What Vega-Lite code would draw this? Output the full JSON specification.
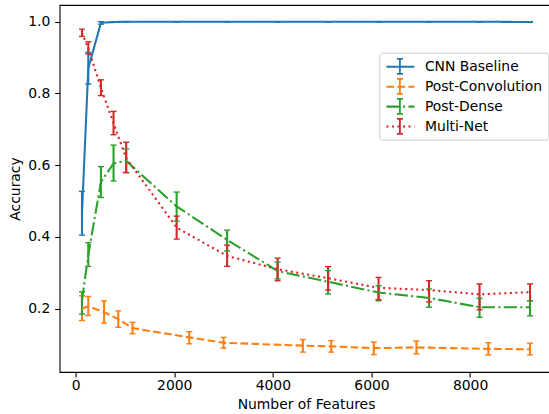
{
  "$schema": "https://vega.github.io/schema/vega-lite/v6.json",
  "autosize": {"type": "none"},
  "padding": {"left": 59.6, "top": 5, "right": -3.4, "bottom": 42},
  "width": 492.8,
  "height": 367,
  "background": "white",
  "config": {
    "font": "DejaVu Sans",
    "view": {"stroke": "black", "strokeWidth": 1.1},
    "axis": {
      "domain": false,
      "grid": false,
      "tickColor": "black",
      "tickWidth": 1.1,
      "tickSize": 4.9,
      "labelFont": "DejaVu Sans",
      "labelFontSize": 13.9,
      "labelColor": "black",
      "labelPadding": 4.9,
      "titleFont": "DejaVu Sans",
      "titleFontSize": 13.9,
      "titleFontWeight": "normal",
      "titleColor": "black",
      "titlePadding": 5.6
    },
    "axisX": {"labelPadding": 1.8, "titlePadding": 5}
  },
  "data": {
    "values": [
      {"s": "CNN Baseline", "x": 128, "y": 0.466, "lo": 0.405, "hi": 0.527},
      {"s": "CNN Baseline", "x": 256, "y": 0.870, "lo": 0.826, "hi": 0.915},
      {"s": "CNN Baseline", "x": 512, "y": 0.997, "lo": 0.993, "hi": 1.0},
      {"s": "CNN Baseline", "x": 768, "y": 0.999, "lo": 0.998, "hi": 1.0},
      {"s": "CNN Baseline", "x": 1024, "y": 1.0, "lo": 0.999, "hi": 1.0},
      {"s": "CNN Baseline", "x": 2048, "y": 1.0, "lo": 0.999, "hi": 1.0},
      {"s": "CNN Baseline", "x": 3072, "y": 1.0, "lo": 0.999, "hi": 1.0},
      {"s": "CNN Baseline", "x": 4096, "y": 1.0, "lo": 0.999, "hi": 1.0},
      {"s": "CNN Baseline", "x": 5120, "y": 1.0, "lo": 0.999, "hi": 1.0},
      {"s": "CNN Baseline", "x": 6144, "y": 1.0, "lo": 0.999, "hi": 1.0},
      {"s": "CNN Baseline", "x": 7168, "y": 1.0, "lo": 0.999, "hi": 1.0},
      {"s": "CNN Baseline", "x": 8192, "y": 1.0, "lo": 0.999, "hi": 1.0},
      {"s": "CNN Baseline", "x": 9216, "y": 0.999, "lo": 0.998, "hi": 1.0},
      {"s": "Post-Convolution", "x": 128, "y": 0.200, "lo": 0.167, "hi": 0.236},
      {"s": "Post-Convolution", "x": 256, "y": 0.207, "lo": 0.181, "hi": 0.234},
      {"s": "Post-Convolution", "x": 576, "y": 0.190, "lo": 0.160, "hi": 0.222},
      {"s": "Post-Convolution", "x": 864, "y": 0.171, "lo": 0.148, "hi": 0.194},
      {"s": "Post-Convolution", "x": 1152, "y": 0.146, "lo": 0.130, "hi": 0.162},
      {"s": "Post-Convolution", "x": 2304, "y": 0.120, "lo": 0.102, "hi": 0.136},
      {"s": "Post-Convolution", "x": 3000, "y": 0.105, "lo": 0.090, "hi": 0.120},
      {"s": "Post-Convolution", "x": 4608, "y": 0.097, "lo": 0.079, "hi": 0.114},
      {"s": "Post-Convolution", "x": 5184, "y": 0.095, "lo": 0.079, "hi": 0.111},
      {"s": "Post-Convolution", "x": 6048, "y": 0.090, "lo": 0.072, "hi": 0.107},
      {"s": "Post-Convolution", "x": 6912, "y": 0.092, "lo": 0.074, "hi": 0.110},
      {"s": "Post-Convolution", "x": 8370, "y": 0.088, "lo": 0.071, "hi": 0.105},
      {"s": "Post-Convolution", "x": 9216, "y": 0.087, "lo": 0.071, "hi": 0.104},
      {"s": "Post-Dense", "x": 128, "y": 0.222, "lo": 0.185, "hi": 0.247},
      {"s": "Post-Dense", "x": 256, "y": 0.350, "lo": 0.318, "hi": 0.384},
      {"s": "Post-Dense", "x": 512, "y": 0.553, "lo": 0.510, "hi": 0.596},
      {"s": "Post-Dense", "x": 768, "y": 0.605, "lo": 0.556, "hi": 0.656},
      {"s": "Post-Dense", "x": 1024, "y": 0.612, "lo": 0.580, "hi": 0.645},
      {"s": "Post-Dense", "x": 2048, "y": 0.485, "lo": 0.444, "hi": 0.525},
      {"s": "Post-Dense", "x": 3072, "y": 0.392, "lo": 0.361, "hi": 0.419},
      {"s": "Post-Dense", "x": 4096, "y": 0.305, "lo": 0.283, "hi": 0.330},
      {"s": "Post-Dense", "x": 5120, "y": 0.275, "lo": 0.241, "hi": 0.306},
      {"s": "Post-Dense", "x": 6144, "y": 0.245, "lo": 0.222, "hi": 0.264},
      {"s": "Post-Dense", "x": 7168, "y": 0.230, "lo": 0.204, "hi": 0.255},
      {"s": "Post-Dense", "x": 8192, "y": 0.204, "lo": 0.176, "hi": 0.229},
      {"s": "Post-Dense", "x": 9216, "y": 0.204, "lo": 0.180, "hi": 0.222},
      {"s": "Multi-Net", "x": 128, "y": 0.969, "lo": 0.959, "hi": 0.979},
      {"s": "Multi-Net", "x": 256, "y": 0.925, "lo": 0.910, "hi": 0.944},
      {"s": "Multi-Net", "x": 512, "y": 0.816, "lo": 0.794, "hi": 0.838},
      {"s": "Multi-Net", "x": 768, "y": 0.717, "lo": 0.685, "hi": 0.750},
      {"s": "Multi-Net", "x": 1024, "y": 0.620, "lo": 0.579, "hi": 0.664},
      {"s": "Multi-Net", "x": 2048, "y": 0.426, "lo": 0.394, "hi": 0.458},
      {"s": "Multi-Net", "x": 3072, "y": 0.347, "lo": 0.318, "hi": 0.377},
      {"s": "Multi-Net", "x": 4096, "y": 0.310, "lo": 0.278, "hi": 0.341},
      {"s": "Multi-Net", "x": 5120, "y": 0.285, "lo": 0.252, "hi": 0.317},
      {"s": "Multi-Net", "x": 6144, "y": 0.258, "lo": 0.225, "hi": 0.287},
      {"s": "Multi-Net", "x": 7168, "y": 0.252, "lo": 0.219, "hi": 0.278},
      {"s": "Multi-Net", "x": 8192, "y": 0.240, "lo": 0.197, "hi": 0.269},
      {"s": "Multi-Net", "x": 9216, "y": 0.246, "lo": 0.222, "hi": 0.269}
    ]
  },
  "layer": [
    {
      "mark": {"type": "rule", "strokeWidth": 2.08},
      "encoding": {
        "x": {"field": "x", "type": "quantitative", "title": "Number of Features", "scale": {"domain": [-326, 9670], "nice": false, "zero": false}, "axis": {"values": [0, 2000, 4000, 6000, 8000], "format": "d"}},
        "y": {"field": "lo", "type": "quantitative", "title": "Accuracy", "scale": {"domain": [0.0235, 1.0465], "nice": false, "zero": false}, "axis": {"values": [0.2, 0.4, 0.6, 0.8, 1.0], "format": ".1f"}},
        "y2": {"field": "hi"},
        "stroke": {"field": "s", "type": "nominal",
          "scale": {"domain": ["Multi-Net", "Post-Dense", "Post-Convolution", "CNN Baseline"], "range": ["#d62728", "#2ca02c", "#ff7f0e", "#1f77b4"]},
          "legend": {"orient": "none", "legendX": 319.7, "legendY": 47.7, "title": null, "values": ["CNN Baseline", "Post-Convolution", "Post-Dense", "Multi-Net"], "symbolType": "M1,-1.07V1.07M0.57,-1.07H1.43M0.57,1.07H1.43", "symbolSize": 196, "symbolStrokeWidth": 1.8, "labelOffset": 23, "labelFontSize": 13.9, "labelFont": "DejaVu Sans", "labelOpacity": 0, "labelLimit": 300, "padding": 5.6, "rowPadding": -4.1}}
      }
    },
    {
      "mark": {"type": "point", "shape": "stroke", "size": 36, "strokeWidth": 1.4, "filled": false, "opacity": 1},
      "encoding": {
        "x": {"field": "x", "type": "quantitative", "title": "Number of Features"},
        "y": {"field": "lo", "type": "quantitative", "title": "Accuracy"},
        "stroke": {"field": "s", "type": "nominal",
          "legend": {"orient": "none", "legendX": 319.7, "legendY": 47.7, "title": null, "values": ["CNN Baseline", "Post-Convolution", "Post-Dense", "Multi-Net"], "symbolType": "M1,-1.07V1.07M0.57,-1.07H1.43M0.57,1.07H1.43", "symbolSize": 196, "symbolStrokeWidth": 1.8, "labelOffset": 23, "labelFontSize": 13.9, "labelFont": "DejaVu Sans", "labelOpacity": 0, "labelLimit": 300, "padding": 5.6, "rowPadding": -4.1}}
      }
    },
    {
      "mark": {"type": "point", "shape": "stroke", "size": 36, "strokeWidth": 1.4, "filled": false, "opacity": 1},
      "encoding": {
        "x": {"field": "x", "type": "quantitative", "title": "Number of Features"},
        "y": {"field": "hi", "type": "quantitative", "title": "Accuracy"},
        "stroke": {"field": "s", "type": "nominal",
          "legend": {"orient": "none", "legendX": 319.7, "legendY": 47.7, "title": null, "values": ["CNN Baseline", "Post-Convolution", "Post-Dense", "Multi-Net"], "symbolType": "M1,-1.07V1.07M0.57,-1.07H1.43M0.57,1.07H1.43", "symbolSize": 196, "symbolStrokeWidth": 1.8, "labelOffset": 23, "labelFontSize": 13.9, "labelFont": "DejaVu Sans", "labelOpacity": 0, "labelLimit": 300, "padding": 5.6, "rowPadding": -4.1}}
      }
    },
    {
      "mark": {"type": "line", "strokeWidth": 2.08},
      "encoding": {
        "x": {"field": "x", "type": "quantitative", "title": "Number of Features"},
        "y": {"field": "y", "type": "quantitative", "title": "Accuracy"},
        "color": {"field": "s", "type": "nominal",
          "scale": {"domain": ["CNN Baseline", "Post-Convolution", "Post-Dense", "Multi-Net"], "range": ["#1f77b4", "#ff7f0e", "#2ca02c", "#d62728"]},
          "legend": {"orient": "none", "legendX": 319.7, "legendY": 47.7, "title": null, "symbolType": "M-1,0H3", "symbolSize": 196, "symbolStrokeWidth": 2.08, "labelOffset": 23, "labelFontSize": 13.9, "labelFont": "DejaVu Sans", "labelColor": "black", "labelLimit": 300, "padding": 5.6, "rowPadding": 3.9, "strokeColor": "#cccccc", "cornerRadius": 2.8}},
        "strokeDash": {"field": "s", "type": "nominal",
          "scale": {"domain": ["CNN Baseline", "Post-Convolution", "Post-Dense", "Multi-Net"], "range": [[1, 0], [7.7, 3.33], [13.3, 3.33, 2.08, 3.33], [2.08, 3.44]]},
          "legend": {"orient": "none", "legendX": 319.7, "legendY": 47.7, "title": null, "symbolType": "M-1,0H3", "symbolSize": 196, "symbolStrokeWidth": 2.08, "labelOffset": 23, "labelFontSize": 13.9, "labelFont": "DejaVu Sans", "labelColor": "black", "labelLimit": 300, "padding": 5.6, "rowPadding": 3.9, "strokeColor": "#cccccc", "cornerRadius": 2.8}}
      }
    }
  ]
}
